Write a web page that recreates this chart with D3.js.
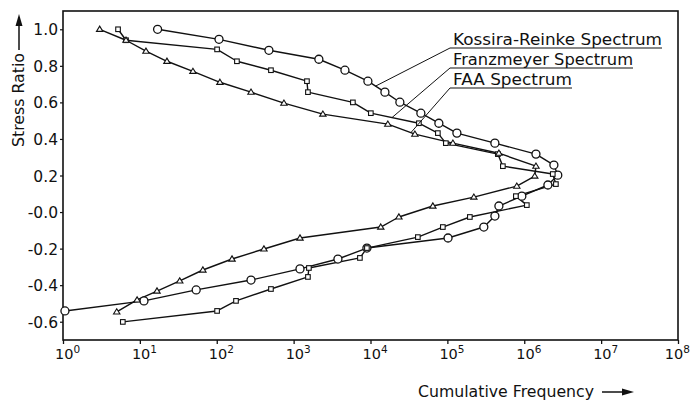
<!DOCTYPE html>
<html><head><meta charset="utf-8">
<script src="https://cdn.jsdelivr.net/npm/d3@7/dist/d3.min.js"></script>
<style>
html,body{margin:0;padding:0;background:#fff;}
svg{display:block;}
text{font-family:"DejaVu Sans",sans-serif;fill:#111;}
</style></head>
<body>
<svg id="chart" width="690" height="402"></svg>
<script>
// ---- data ----
const kossiraFreq = [17, 107, 477, 2130, 4650, 9250, 15400, 24100, 45200, 77500, 133000, 415000, 1420000, 2430000, 2730000, 2030000, 930000, 468000, 415000, 298000, 102000, 8980, 3770, 1210, 279, 54, 11.3, 1.06];
const kossiraRatio = [1.0, 0.945, 0.885, 0.836, 0.776, 0.716, 0.656, 0.601, 0.541, 0.486, 0.432, 0.377, 0.317, 0.257, 0.202, 0.148, 0.087, 0.033, -0.022, -0.082, -0.142, -0.197, -0.257, -0.311, -0.372, -0.426, -0.486, -0.541];

const franzFreq = [5.2, 6.6, 101, 183, 507, 1490, 1535, 5900, 10100, 42600, 75200, 95500, 454000, 527000, 2350000, 2580000, 778000, 1080000, 196000, 87300, 41300, 8980, 7280, 1580, 1535, 507, 178, 101, 6.0];
const franzRatio = [1.0, 0.94, 0.89, 0.825, 0.776, 0.716, 0.656, 0.60, 0.541, 0.486, 0.432, 0.377, 0.317, 0.251, 0.208, 0.153, 0.087, 0.038, -0.027, -0.082, -0.137, -0.197, -0.251, -0.306, -0.355, -0.421, -0.486, -0.541, -0.601];

const faaFreq = [3.0, 6.6, 12, 22.5, 49, 110, 279, 748, 2400, 16800, 37800, 118000, 468000, 1420000, 1370000, 800000, 221000, 64700, 23400, 13600, 1210, 411, 158, 66, 33, 16.7, 9.2, 5.0];
const faaRatio = [1.0, 0.94, 0.88, 0.825, 0.77, 0.71, 0.656, 0.596, 0.536, 0.481, 0.426, 0.377, 0.322, 0.251, 0.197, 0.142, 0.082, 0.033, -0.027, -0.082, -0.142, -0.202, -0.257, -0.317, -0.377, -0.432, -0.481, -0.546];

const seriesNames = ["Kossira-Reinke Spectrum", "Franzmeyer Spectrum", "FAA Spectrum"];
const xTickExponents = [0, 1, 2, 3, 4, 5, 6, 7, 8];
const yTickValues = [-0.6, -0.4, -0.2, 0.0, 0.2, 0.4, 0.6, 0.8, 1.0];
const yTickLabels = ["-0.6", "-0.4", "-0.2", "-0.0", "0.2", "0.4", "0.6", "0.8", "1.0"];
const xTitle = "Cumulative Frequency";
const yTitle = "Stress Ratio";

// ---- layout ----
const svg = d3.select("#chart");
const L = 63, R = 678, T = 11, B = 340;
const x = d3.scaleLog().domain([1, 1e8]).range([L, R]);
const y = d3.scaleLinear().domain([-0.7, 1.1]).range([B, T]);

const series = [
  {name: seriesNames[0], freq: kossiraFreq, ratio: kossiraRatio, marker: "circle", leaderSeg: 5, leaderT: 0.45},
  {name: seriesNames[1], freq: franzFreq, ratio: franzRatio, marker: "square", leaderSeg: 8, leaderT: 0.44},
  {name: seriesNames[2], freq: faaFreq, ratio: faaRatio, marker: "triangle", leaderSeg: 9, leaderT: 0.85}
];

// frame
svg.append("rect").attr("x", L).attr("y", T).attr("width", R - L).attr("height", B - T)
  .attr("fill", "none").attr("stroke", "#111").attr("stroke-width", 1.6);

// x axis
const xAxis = d3.axisBottom(x).tickValues(xTickExponents.map(e => Math.pow(10, e)))
  .tickSize(4).tickFormat("");
const gx = svg.append("g").attr("transform", `translate(0,${B})`).call(xAxis);
gx.select(".domain").remove();
gx.selectAll("line").attr("stroke", "#111").attr("stroke-width", 1.3);
gx.selectAll(".tick").each(function(d, i) {
  const last = i === xTickExponents.length - 1;
  const t = d3.select(this).append("text").attr("y", 19)
    .attr("text-anchor", last ? "end" : "start")
    .attr("x", last ? 11.5 : -8.5).attr("font-size", 14.5);
  t.append("tspan").text("10");
  t.append("tspan").attr("dy", -6).attr("font-size", 10.5).text(String(xTickExponents[i]));
});

// y axis
const yAxis = d3.axisLeft(y).tickValues(yTickValues).tickSize(3)
  .tickFormat((d, i) => yTickLabels[i]);
const gy = svg.append("g").attr("transform", `translate(${L},0)`).call(yAxis);
gy.select(".domain").remove();
gy.selectAll("line").attr("stroke", "#111").attr("stroke-width", 1.2);
gy.selectAll("text").attr("font-size", 15.5).attr("font-family", "DejaVu Sans").attr("fill", "#111")
  .attr("x", -5).attr("dy", "0.36em");

// lines
const line = d3.line().x(d => x(d[0])).y(d => y(d[1]));
series.forEach(s => {
  const pts = s.freq.map((f, i) => [f, s.ratio[i]]);
  s.pts = pts;
  svg.append("path").datum(pts).attr("d", line).attr("fill", "none")
    .attr("stroke", "#111").attr("stroke-width", 1.4).attr("stroke-linejoin", "round");
});

// markers
series.forEach(s => {
  const g = svg.append("g");
  s.pts.forEach(p => {
    const cx = x(p[0]), cy = y(p[1]);
    if (s.marker === "circle") {
      g.append("circle").attr("cx", cx).attr("cy", cy).attr("r", 4)
        .attr("fill", "#fff").attr("stroke", "#111").attr("stroke-width", 1.3);
    } else if (s.marker === "square") {
      g.append("rect").attr("x", cx - 2.3).attr("y", cy - 2.3).attr("width", 4.6).attr("height", 4.6)
        .attr("fill", "#fff").attr("stroke", "#111").attr("stroke-width", 1.1);
    } else {
      const h = 5.2, w = 6.4;
      g.append("path").attr("d", `M${cx},${cy - h * 0.6}L${cx + w / 2},${cy + h * 0.4}L${cx - w / 2},${cy + h * 0.4}Z`)
        .attr("fill", "#fff").attr("stroke", "#111").attr("stroke-width", 1.1);
    }
  });
});

// legend labels with leaders
const legX = 453, legW = [209, 180, 119], legBase = [45, 65, 85];
series.forEach((s, i) => {
  svg.append("text").attr("x", legX).attr("y", legBase[i]).attr("font-size", 16)
    .attr("textLength", legW[i]).attr("lengthAdjust", "spacingAndGlyphs").text(s.name);
  svg.append("line").attr("x1", legX - 3).attr("x2", legX + legW[i]).attr("y1", legBase[i] + 3).attr("y2", legBase[i] + 3)
    .attr("stroke", "#111").attr("stroke-width", 1.2);
  const a = s.pts[s.leaderSeg], b = s.pts[s.leaderSeg + 1];
  const tx = x(a[0]) + (x(b[0]) - x(a[0])) * s.leaderT;
  const ty = y(a[1]) + (y(b[1]) - y(a[1])) * s.leaderT;
  svg.append("line").attr("x1", legX - 3).attr("y1", legBase[i] + 3).attr("x2", tx).attr("y2", ty)
    .attr("stroke", "#111").attr("stroke-width", 1);
});

// axis titles with arrows
svg.append("text").attr("x", 418).attr("y", 397).attr("font-size", 16)
  .attr("textLength", 176).attr("lengthAdjust", "spacingAndGlyphs").text(xTitle);
svg.append("line").attr("x1", 602).attr("x2", 625).attr("y1", 392).attr("y2", 392).attr("stroke", "#111").attr("stroke-width", 1.5);
svg.append("path").attr("d", "M634,392L622,388.5L622,395.5Z").attr("fill", "#111");

svg.append("text").attr("transform", "translate(24,147) rotate(-90)").attr("font-size", 16)
  .attr("textLength", 94).attr("lengthAdjust", "spacingAndGlyphs").text(yTitle);
svg.append("line").attr("x1", 19).attr("x2", 19).attr("y1", 50).attr("y2", 24).attr("stroke", "#111").attr("stroke-width", 1.5);
svg.append("path").attr("d", "M19,14L15.5,26L22.5,26Z").attr("fill", "#111");
</script>
</body></html>
